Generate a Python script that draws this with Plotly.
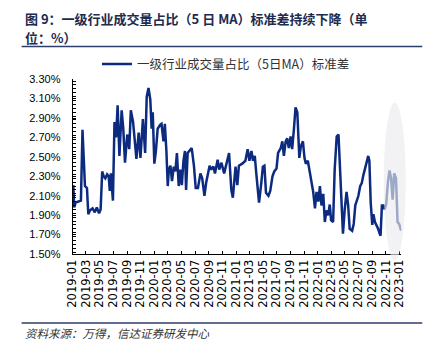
import plotly.graph_objects as go

dates = [
    "2019-01-04","2019-01-08","2019-01-14","2019-01-26","2019-02-07","2019-02-14","2019-02-19","2019-02-25",
    "2019-03-06","2019-03-12","2019-03-20","2019-03-31","2019-04-10","2019-04-19","2019-04-29","2019-05-06",
    "2019-05-13","2019-05-20","2019-05-27","2019-06-04","2019-06-11","2019-06-16","2019-06-21","2019-06-30",
    "2019-07-07","2019-07-14","2019-07-21","2019-07-29","2019-08-08","2019-08-15","2019-08-23","2019-09-02",
    "2019-09-11","2019-09-18","2019-09-28","2019-10-13","2019-10-23","2019-10-31","2019-11-11","2019-11-21",
    "2019-11-28","2019-12-06","2019-12-14","2019-12-20","2019-12-25","2020-01-01","2020-01-08","2020-01-16",
    "2020-01-27","2020-02-02","2020-02-11","2020-02-17","2020-02-24","2020-03-01","2020-03-06","2020-03-13",
    "2020-03-20","2020-03-28","2020-04-04","2020-04-11","2020-04-19","2020-04-26","2020-05-03","2020-05-10",
    "2020-05-17","2020-05-22","2020-05-29","2020-06-08","2020-06-16","2020-06-26","2020-07-04","2020-07-14",
    "2020-07-25","2020-08-02","2020-08-12","2020-08-20","2020-08-27","2020-09-04","2020-09-11","2020-09-21",
    "2020-09-28","2020-10-10","2020-10-17","2020-10-27","2020-11-08","2020-11-20","2020-11-30","2020-12-10",
    "2020-12-17","2020-12-29","2021-01-06","2021-01-13","2021-01-28","2021-02-11","2021-02-21","2021-03-01",
    "2021-03-10","2021-03-17","2021-03-25","2021-04-01","2021-04-13","2021-04-23","2021-04-30","2021-05-07",
    "2021-05-14","2021-05-25","2021-06-02","2021-06-12","2021-06-20","2021-06-30","2021-07-07","2021-07-19",
    "2021-07-26","2021-08-02","2021-08-10","2021-08-17","2021-08-24","2021-09-01","2021-09-08","2021-09-16",
    "2021-09-23","2021-10-01","2021-10-10","2021-10-17","2021-10-26","2021-11-02","2021-11-08","2021-11-17",
    "2021-11-23","2021-12-04","2021-12-11","2021-12-19","2021-12-26","2022-01-03","2022-01-10","2022-01-17",
    "2022-01-25","2022-02-01","2022-02-08","2022-02-16","2022-02-23","2022-03-01","2022-03-10","2022-03-17",
    "2022-03-26","2022-04-03","2022-04-10","2022-04-17","2022-04-23","2022-05-01","2022-05-09","2022-05-16",
    "2022-05-23","2022-06-03","2022-06-10","2022-06-17","2022-06-25","2022-07-01","2022-07-09","2022-07-16",
    "2022-07-23","2022-07-31","2022-08-07","2022-08-14","2022-08-19","2022-08-25","2022-09-01","2022-09-06",
    "2022-09-13","2022-09-20","2022-09-27","2022-10-04","2022-10-08","2022-10-14","2022-10-21","2022-10-26",
    "2022-11-02","2022-11-10","2022-11-17","2022-11-24","2022-12-01","2022-12-08","2022-12-16","2022-12-23",
    "2022-12-30","2023-01-08",
]

values = [
    2.21,1.98,2.03,2.04,2.05,2.78,2.55,2.20,
    2.18,1.91,1.95,1.97,1.93,1.98,1.92,1.96,
    2.35,2.30,2.28,2.32,2.30,2.15,2.33,2.05,
    2.86,2.70,3.03,2.51,2.98,2.80,2.44,2.73,
    2.58,2.98,2.86,2.48,2.75,2.49,2.89,2.54,
    3.12,3.21,3.09,2.79,2.96,2.43,2.56,2.79,
    2.83,2.84,2.66,2.84,2.56,2.20,2.37,2.41,
    2.25,2.40,2.35,2.54,2.20,2.37,2.21,2.46,
    2.56,2.16,2.54,2.57,2.59,2.41,2.18,2.18,
    2.33,2.28,2.10,2.24,2.33,2.41,2.37,2.40,
    2.33,2.47,2.37,2.44,2.33,2.46,2.54,2.16,
    2.08,2.40,2.21,2.41,2.43,2.46,2.58,2.46,
    2.56,2.46,2.51,2.32,2.03,2.23,2.40,2.41,
    2.13,2.10,2.15,2.30,2.35,2.38,2.54,2.59,
    2.66,2.51,2.66,2.69,2.59,2.71,2.58,2.79,
    3.01,2.96,2.49,2.61,2.66,2.49,2.43,2.46,
    2.37,2.20,2.14,1.97,2.14,2.04,2.20,2.00,
    2.12,1.83,1.95,1.90,2.01,1.85,1.83,2.37,
    2.71,2.73,2.37,2.14,1.71,1.96,2.14,2.01,
    1.76,1.74,1.81,2.00,2.05,2.10,2.20,2.23,
    2.31,2.38,2.46,2.51,2.46,2.03,1.80,1.91,
    1.83,1.80,1.76,1.71,1.69,2.00,2.00,1.96,
    2.01,2.24,2.36,2.28,2.06,2.33,2.28,1.83,
    1.81,1.74,
]

series_name = "一级行业成交量占比（5日MA）标准差"
title_line1 = "图 9：一级行业成交量占比（5 日 MA）标准差持续下降（单"
title_line2 = "位：%）"
source_text = "资料来源：万得，信达证券研发中心"

CJK = "Noto Sans CJK SC"
NAVY = "#0c2a80"
RULE = "#2c3e6a"
W, H = 437, 357


def fx(px):
    return px / W


def fy(py):
    return 1 - py / H


fig = go.Figure()
fig.add_trace(go.Scatter(
    x=dates, y=values, mode="lines", name=series_name,
    line=dict(color=NAVY, width=2.5),
))

fig.update_layout(
    width=W, height=H,
    margin=dict(l=0, r=0, t=0, b=0, pad=0),
    paper_bgcolor="white", plot_bgcolor="white",
    showlegend=True,
    legend=dict(
        x=fx(92.5), y=fy(60.3), xanchor="left", yanchor="middle",
        orientation="h", bgcolor="rgba(0,0,0,0)",
        font=dict(family=CJK, size=12.5, color="#333333"),
        itemwidth=30,
    ),
    xaxis=dict(
        domain=[fx(67.5), fx(405.5)],
        type="date",
        range=["2019-01-01", "2023-01-09"],
        tick0="2019-01-01", dtick="M2", tickformat="%Y-%m",
        tickangle=-90,
        ticks="inside", ticklen=3, tickcolor="black",
        showline=True, linecolor="black", linewidth=1,
        showgrid=False, zeroline=False,
        tickfont=dict(family="DejaVu Sans", size=11.5, color="black"),
    ),
    yaxis=dict(
        domain=[fy(256.7), fy(75.7)],
        range=[1.5, 3.3], dtick=0.2, tick0=1.5,
        tickformat=".2f", ticksuffix="%",
        ticks="inside", ticklen=3, tickcolor="black",
        minor=dict(dtick=0.04, ticks="inside", ticklen=3, tickcolor="black", showgrid=False),
        showline=True, linecolor="black", linewidth=1,
        showgrid=False, zeroline=False,
        tickfont=dict(family="Liberation Sans", size=11, color="black"),
        ticklabelstandoff=9,
    ),
    shapes=[
        dict(type="circle", xref="paper", yref="paper", layer="above",
             x0=fx(387.3), x1=fx(410), y0=fy(263), y1=fy(100),
             fillcolor="rgba(235,235,238,0.65)", line=dict(width=0)),
        dict(type="line", xref="paper", yref="paper", layer="above",
             x0=fx(15), x1=fx(427), y0=fy(42), y1=fy(42),
             line=dict(color=RULE, width=1.5)),
        dict(type="line", xref="paper", yref="paper", layer="above",
             x0=fx(15), x1=fx(427), y0=fy(328), y1=fy(328),
             line=dict(color=RULE, width=1.5)),
    ],
    annotations=[
        dict(text="<b>" + title_line1 + "</b>", xref="paper", yref="paper",
             x=fx(16), y=fy(13), xanchor="left", yanchor="middle", align="left",
             showarrow=False,
             font=dict(family=CJK, size=13, color="#1c2b4f")),
        dict(text="<b>" + title_line2 + "</b>", xref="paper", yref="paper",
             x=fx(16), y=fy(33), xanchor="left", yanchor="middle", align="left",
             showarrow=False,
             font=dict(family=CJK, size=13, color="#1c2b4f")),
        dict(text=source_text, xref="paper", yref="paper",
             x=fx(16), y=fy(338), xanchor="left", yanchor="middle", align="left",
             showarrow=False,
             font=dict(family=CJK, size=11.5, color="#333333", style="italic")),
    ],
)

fig.write_html("out.html", config={"displayModeBar": False},
               post_script="document.body.style.margin='0';")
